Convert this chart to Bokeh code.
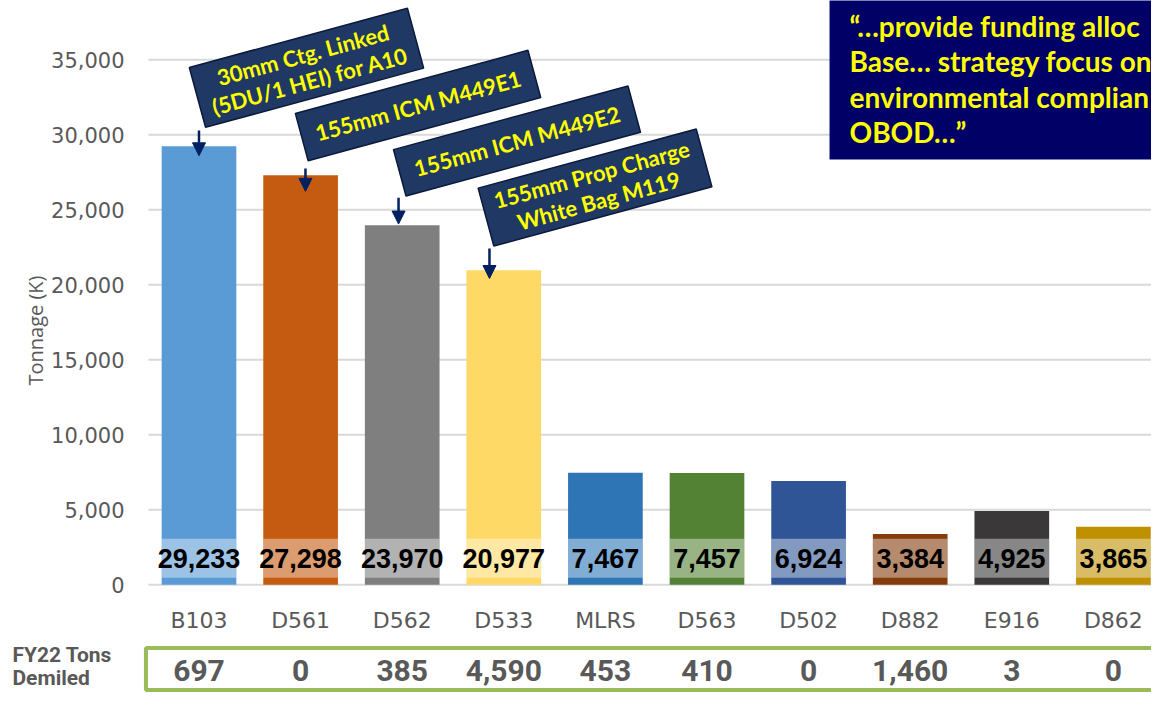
from bokeh.plotting import figure
from bokeh.layouts import column
from bokeh.models import (ColumnDataSource, FixedTicker, NumeralTickFormatter, Title,
                          Arrow, NormalHead, Range1d)
from bokeh.embed import file_html
from bokeh.resources import INLINE
from bokeh.core.properties import value

# ---------------- data ----------------
categories = ["B103", "D561", "D562", "D533", "MLRS", "D563", "D502", "D882", "E916", "D862"]
tonnage = [29233, 27298, 23970, 20977, 7467, 7457, 6924, 3384, 4925, 3865]
fy22_demiled = [697, 0, 385, 4590, 453, 410, 0, 1460, 3, 0]
bar_colors = ["#5B9BD5", "#C55A11", "#7F7F7F", "#FFD966", "#2E75B6",
              "#548235", "#2F5597", "#843C0C", "#3A3838", "#BF9000"]
y_ticks = [0, 5000, 10000, 15000, 20000, 25000, 30000, 35000]

callout_texts = ["30mm Ctg. Linked\n(5DU/1 HEI) for A10", "155mm ICM M449E1",
                 "155mm ICM M449E2", "155mm Prop Charge\nWhite Bag M119"]
quote_text = "\u201c\u2026provide funding alloc\nBase\u2026 strategy focus on\nenvironmental complian\nOBOD\u2026\u201d"
table_header = "FY22 Tons\nDemiled"
y_title = "Tonnage (K)"

# ---------------- layout (styling) ----------------
GRAY = "#595959"
NAVY = "#1F3864"
x = list(range(len(categories)))

src = ColumnDataSource(dict(x=x, cat=categories, top=tonnage, color=bar_colors,
                            lab=[f"{v:,}" for v in tonnage],
                            dem=[f"{v:,}" for v in fy22_demiled]))

# ---- main chart ----
p = figure(width=1151, height=639, x_range=Range1d(-0.5856, 9.375),
           y_range=Range1d(-780, 38953),
           output_backend="svg", toolbar_location=None,
           min_border_left=139, min_border_right=0, min_border_top=0, min_border_bottom=43)
p.frame_align = False
p.outline_line_color = None
p.xgrid.grid_line_color = None
p.ygrid.grid_line_color = None

p.yaxis.ticker = FixedTicker(ticks=y_ticks)
p.yaxis.formatter = NumeralTickFormatter(format="0,0")
p.yaxis.axis_line_color = None
p.yaxis.major_tick_line_color = None
p.yaxis.minor_tick_line_color = None
p.yaxis.major_label_standoff = 9
p.yaxis.major_label_text_font = "DejaVu Sans"
p.yaxis.major_label_text_font_size = "21px"
p.yaxis.major_label_text_color = GRAY

p.xaxis.ticker = FixedTicker(ticks=x)
p.xaxis.major_label_overrides = {i: c for i, c in zip(x, categories)}
p.xaxis.axis_line_color = None
p.xaxis.major_tick_line_color = None
p.xaxis.minor_tick_line_color = None
p.xaxis.major_label_standoff = 5
p.xaxis.major_label_text_font = "DejaVu Sans"
p.xaxis.major_label_text_font_size = "22px"
p.xaxis.major_label_text_color = GRAY

p.add_layout(Title(text=y_title, align="left", offset=211, standoff=0,
                   text_font="Open Sans", text_font_size="20px", text_font_style="normal",
                   text_color=GRAY), "left")

# gridlines
p.segment(x0=-0.497, x1=10, y0=y_ticks, y1=y_ticks, line_color="#D9D9D9", line_width=2)

p.vbar(x="x", top="top", bottom=0, width=0.735, fill_color="color", line_color=None, source=src)
# translucent label band
p.vbar(x="x", top=3067, bottom=467, width=0.735, fill_color="white", fill_alpha=0.4,
       line_color=None, source=src)
p.text(x="x", y=1767, text="lab", source=src, text_align="center", text_baseline="middle",
       text_font=value("Liberation Sans"), text_font_style="bold", text_font_size="27px",
       text_color="black")

# callouts
cx = [1.058, 2.156, 3.130, 3.898]
cy = [34467, 31953, 29587, 26487]
cw = [226, 241, 243, 226]
ch = [62, 49, 48, 60]
p.rect(x=cx, y=cy, width=cw, height=ch, width_units="screen", height_units="screen",
       angle=0.265, fill_color=NAVY, line_color="#0B1A3A", line_width=1.5)
p.text(x=cx, y=cy, text=callout_texts, angle=0.265, text_align="center",
       text_baseline="middle", text_font=value("Lato"), text_font_style="bold",
       text_font_size="22px", text_color="#FFFF00", text_line_height=1.0)

ax = [0.0, 1.048, 1.964, 2.859]
ay0 = [30290, 27750, 25800, 22420]
ay1 = [28600, 26230, 24050, 20420]
for i in range(4):
    p.add_layout(Arrow(x_start=ax[i], y_start=ay0[i], x_end=ax[i], y_end=ay1[i],
                       line_color="#002060", line_width=2.5,
                       end=NormalHead(size=13, fill_color="#002060", line_color="#002060")))

# quote box
p.quad(left=6.206, right=10, bottom=28353, top=40000, fill_color="#000066", line_color=None)
p.text(x=[6.403], y=[33720], text=[quote_text], text_align="left", text_baseline="middle",
       text_font=value("Lato"), text_font_style="bold", text_font_size="28px",
       text_color="#FFFF00", text_line_height=1.04)

# ---- FY22 demil table row ----
t = figure(width=1151, height=53, x_range=Range1d(-1.9537, 9.375), y_range=Range1d(692, 639),
           x_axis_type=None, y_axis_type=None, output_backend="svg", toolbar_location=None,
           min_border_left=0, min_border_right=0, min_border_top=0, min_border_bottom=0)
t.frame_align = False
t.outline_line_color = None
t.quad(left=-0.522, right=10, top=647.5, bottom=689.5, fill_color=None,
       line_color="#9BBB59", line_width=4)
t.text(x="x", y=670, text="dem", source=src, text_align="center", text_baseline="middle",
       text_font=value("Roboto"), text_font_style="bold", text_font_size="30px", text_color=GRAY)
t.text(x=[-1.836], y=[666], text=[table_header], text_align="left", text_baseline="middle",
       text_font=value("Roboto"), text_font_style="bold", text_font_size="21px",
       text_color=GRAY, text_line_height=0.95)

layout = column(p, t, spacing=0)
open("out.html", "w").write(file_html(layout, INLINE))
